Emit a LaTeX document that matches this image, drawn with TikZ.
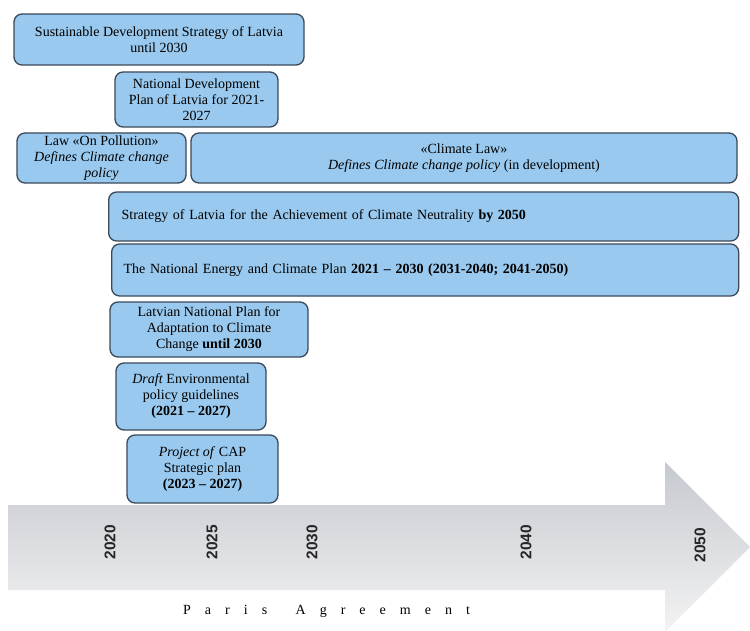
\documentclass[tikz,border=0pt]{standalone}
\usepackage{fontspec}
\setmainfont{Liberation Serif}
\newfontfamily\yearfont{Liberation Sans}
\begin{document}
\begin{tikzpicture}[x=1pt,y=-1pt,
  docbox/.style={draw=boxline, fill=boxfill, line width=1.3pt, rounded corners=8pt,
    inner sep=0pt, align=center, font=\fontsize{14}{16}\selectfont},
  widebox/.style={docbox, align=left, anchor=west},
  yearlabel/.style={rotate=90, font=\yearfont\bfseries\fontsize{15.5}{17}\selectfont, text=black!85}]
\definecolor{boxfill}{RGB}{153,201,238}
\definecolor{boxline}{RGB}{58,72,88}
\definecolor{shadetop}{RGB}{198,201,208}
\definecolor{shademid}{RGB}{212,215,220}
\definecolor{shadebot}{RGB}{243,243,243}
\useasboundingbox (0,0) rectangle (750,631);

% timeline arrow
\shade[top color=shadetop, middle color=shademid, bottom color=shadebot]
  (8,505) -- (665,505) -- (665,462) -- (750,547) -- (665,632) -- (665,590) -- (8,590) -- cycle;

% documents
\node[docbox, minimum width=290pt, minimum height=51pt] (sds) at (159,39.5)
  {Sustainable Development Strategy of Latvia\\until 2030};
\node[docbox, minimum width=163pt, minimum height=55pt] (ndp) at (196.5,99.5)
  {National Development\\Plan of Latvia for 2021-\\2027};
\node[docbox, minimum width=169pt, minimum height=50pt] (pollution) at (101.5,158)
  {Law «On Pollution»\\\textit{Defines Climate change}\\\textit{policy}};
\node[docbox, minimum width=546pt, minimum height=50pt] (climatelaw) at (464,158)
  {«Climate Law»\\\textit{Defines Climate change policy} (in development)};
\node[widebox, minimum width=630pt, minimum height=49pt, inner xsep=13pt, text width=604pt] (neutral) at (108,216.5)
  {Strategy of Latvia for the Achievement of Climate Neutrality \textbf{by 2050}};
\node[widebox, minimum width=627pt, minimum height=52pt, inner xsep=12pt, text width=603pt] (necp) at (111,270)
  {The National Energy and Climate Plan \textbf{2021 – 2030 (2031-2040; 2041-2050)}};
\node[docbox, minimum width=198pt, minimum height=55pt] (adapt) at (209,329.5)
  {Latvian National Plan for\\Adaptation to Climate\\Change \textbf{until 2030}};
\node[docbox, minimum width=150pt, minimum height=67pt] (env) at (191,396.5)
  {\textit{Draft} Environmental\\policy guidelines\\\textbf{(2021 – 2027)}};
\node[docbox, minimum width=151pt, minimum height=68pt] (cap) at (202.5,469)
  {\textit{Project of} CAP\\Strategic plan\\\textbf{(2023 – 2027)}};

% years on the timeline
\node[yearlabel] (y2020) at (110,542) {2020};
\node[yearlabel] (y2025) at (212,542) {2025};
\node[yearlabel] (y2030) at (312,542) {2030};
\node[yearlabel] (y2040) at (526,542) {2040};
\node[yearlabel] (y2050) at (700,545) {2050};

\node[anchor=base west, inner sep=0pt, font=\addfontfeature{LetterSpace=100}\fontsize{14}{16}\selectfont] (paris) at (183,614)
  {Paris\hspace{11pt} Agreement};
\end{tikzpicture}
\end{document}
